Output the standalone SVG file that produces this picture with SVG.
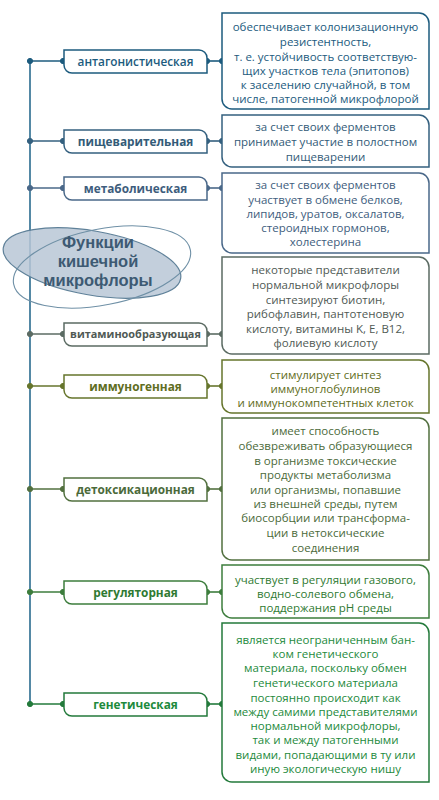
<svg xmlns="http://www.w3.org/2000/svg" width="439" height="800" viewBox="0 0 439 800">
<style>
.lbl{font-family:"Open Sans","Noto Sans","DejaVu Sans",sans-serif;font-size:11.8px;font-weight:700;text-anchor:middle}
.txt{font-family:"Open Sans","Noto Sans","DejaVu Sans",sans-serif;font-size:11.5px;text-anchor:middle}
.box{fill:#fff;stroke-width:1.5}
.ln{stroke-width:1.6;fill:none}
.c1{stroke:#1c5b7e;fill:#1c5b7e}
.c2{stroke:#34607f;fill:#34607f}
.c3{stroke:#4a6889;fill:#4a6889}
.c4{stroke:#5b6b63;fill:#5b6b63}
.c5{stroke:#66752c;fill:#66752c}
.c6{stroke:#52703f;fill:#52703f}
.c7{stroke:#3d7d3d;fill:#3d7d3d}
.c8{stroke:#237a3b;fill:#237a3b}
.t1{fill:#1c5b7e}.t2{fill:#335b78}.t3{fill:#3e5d7d}.t4{fill:#505a55}
.t5{fill:#5f6d22}.t6{fill:#4b6a3a}.t7{fill:#2f7a32}.t8{fill:#1d8a3c}
.title{font-family:"Liberation Sans","Arimo",sans-serif;font-size:16.5px;font-weight:700;fill:#3d5a73;text-anchor:middle}
</style>
<g id="connectors">
<line x1="30" y1="61" x2="30" y2="704" stroke="#2a6b8f" stroke-width="1.6"/>
<g class="c1"><line class="ln" x1="30" y1="61" x2="64" y2="61"/><line class="ln" x1="207" y1="61" x2="222" y2="61"/><circle cx="30" cy="61" r="2.6"/><circle cx="63" cy="61" r="2.6"/><circle cx="207" cy="61" r="2.6"/><circle cx="222" cy="61" r="2.6"/></g>
<g class="c2"><line class="ln" x1="30" y1="141" x2="64" y2="141"/><line class="ln" x1="207" y1="141" x2="222" y2="141"/><circle cx="30" cy="141" r="2.6"/><circle cx="63" cy="141" r="2.6"/><circle cx="207" cy="141" r="2.6"/><circle cx="222" cy="141" r="2.6"/></g>
<g class="c3"><line class="ln" x1="30" y1="188" x2="64" y2="188"/><line class="ln" x1="207" y1="188" x2="222" y2="188"/><circle cx="30" cy="188" r="2.6"/><circle cx="63" cy="188" r="2.6"/><circle cx="207" cy="188" r="2.6"/><circle cx="222" cy="188" r="2.6"/></g>
<g class="c4"><line class="ln" x1="30" y1="334" x2="64" y2="334"/><line class="ln" x1="207" y1="334" x2="222" y2="334"/><circle cx="30" cy="334" r="2.6"/><circle cx="63" cy="334" r="2.6"/><circle cx="207" cy="334" r="2.6"/><circle cx="222" cy="334" r="2.6"/></g>
<g class="c5"><line class="ln" x1="30" y1="386" x2="64" y2="386"/><line class="ln" x1="207" y1="386" x2="222" y2="386"/><circle cx="30" cy="386" r="2.6"/><circle cx="63" cy="386" r="2.6"/><circle cx="207" cy="386" r="2.6"/><circle cx="222" cy="386" r="2.6"/></g>
<g class="c6"><line class="ln" x1="30" y1="489" x2="64" y2="489"/><line class="ln" x1="207" y1="489" x2="222" y2="489"/><circle cx="30" cy="489" r="2.6"/><circle cx="63" cy="489" r="2.6"/><circle cx="207" cy="489" r="2.6"/><circle cx="222" cy="489" r="2.6"/></g>
<g class="c7"><line class="ln" x1="30" y1="592" x2="64" y2="592"/><line class="ln" x1="207" y1="592" x2="222" y2="592"/><circle cx="30" cy="592" r="2.6"/><circle cx="63" cy="592" r="2.6"/><circle cx="207" cy="592" r="2.6"/><circle cx="222" cy="592" r="2.6"/></g>
<g class="c8"><line class="ln" x1="30" y1="704" x2="64" y2="704"/><line class="ln" x1="207" y1="704" x2="222" y2="704"/><circle cx="30" cy="704" r="2.6"/><circle cx="63" cy="704" r="2.6"/><circle cx="207" cy="704" r="2.6"/><circle cx="222" cy="704" r="2.6"/></g>
</g>
<g id="title">
<ellipse cx="92" cy="263" rx="90" ry="32" transform="rotate(10 92 263)" fill="#b9c7d6" fill-opacity="0.85" stroke="#5f8199" stroke-width="1.2"/>
<ellipse cx="102" cy="267" rx="90" ry="38" transform="rotate(-11 102 267)" fill="none" stroke="#6f90a6" stroke-width="1.1"/>
<text class="title" x="98" y="248">Функции</text>
<text class="title" x="98" y="267">кишечной</text>
<text class="title" x="98" y="286">микрофлоры</text>
</g>
<g id="n1">
<path class="box c1" style="fill:#fff" d="M64 50H199A8 8 0 0 1 207 58V73H72A8 8 0 0 1 64 65Z"/>
<text class="lbl t1" style="font-weight:600" x="135.5" y="65.5">антагонистическая</text>
<path class="box c1" style="fill:#fff" d="M222 13H419A10 10 0 0 1 429 23V109H232A10 10 0 0 1 222 99Z"/>
<text class="txt t1"><tspan x="325.5" y="31">обеспечивает колонизационную</tspan><tspan x="325.5" y="46">резистентность,</tspan><tspan x="325.5" y="61">т. е. устойчивость соответствую-</tspan><tspan x="325.5" y="75">щих участков тела (эпитопов)</tspan><tspan x="325.5" y="89">к заселению случайной, в том</tspan><tspan x="325.5" y="103">числе, патогенной микрофлорой</tspan></text>
</g>
<g id="n2">
<path class="box c2" style="fill:#fff" d="M64 130H199A8 8 0 0 1 207 138V153H72A8 8 0 0 1 64 145Z"/>
<text class="lbl t2" x="135.5" y="145.5">пищеварительная</text>
<path class="box c2" style="fill:#fff" d="M222 115H419A10 10 0 0 1 429 125V167H232A10 10 0 0 1 222 157Z"/>
<text class="txt t2"><tspan x="325.5" y="131">за счет своих ферментов</tspan><tspan x="325.5" y="146">принимает участие в полостном</tspan><tspan x="325.5" y="161">пищеварении</tspan></text>
</g>
<g id="n3">
<path class="box c3" style="fill:#fff" d="M64 177H199A8 8 0 0 1 207 185V200H72A8 8 0 0 1 64 192Z"/>
<text class="lbl t3" x="135.5" y="192.5">метаболическая</text>
<path class="box c3" style="fill:#fff" d="M222 173H419A10 10 0 0 1 429 183V253H232A10 10 0 0 1 222 243Z"/>
<text class="txt t3"><tspan x="325.5" y="189">за счет своих ферментов</tspan><tspan x="325.5" y="204">участвует в обмене белков,</tspan><tspan x="325.5" y="218">липидов, уратов, оксалатов,</tspan><tspan x="325.5" y="232">стероидных гормонов,</tspan><tspan x="325.5" y="246">холестерина</tspan></text>
</g>
<g id="n4">
<path class="box c4" style="fill:#fff" d="M64 323H199A8 8 0 0 1 207 331V346H72A8 8 0 0 1 64 338Z"/>
<text class="lbl t4" style="font-size:10.9px" x="135.5" y="338.3">витаминообразующая</text>
<path class="box c4" style="fill:#fff" d="M222 257H419A10 10 0 0 1 429 267V354H232A10 10 0 0 1 222 344Z"/>
<text class="txt t4"><tspan x="325.5" y="274">некоторые представители</tspan><tspan x="325.5" y="289">нормальной микрофлоры</tspan><tspan x="325.5" y="304">синтезируют биотин,</tspan><tspan x="325.5" y="318">рибофлавин, пантотеновую</tspan><tspan x="325.5" y="333">кислоту, витамины K, E, B12,</tspan><tspan x="325.5" y="347">фолиевую кислоту</tspan></text>
</g>
<g id="n5">
<path class="box c5" style="fill:#fff" d="M64 375H199A8 8 0 0 1 207 383V398H72A8 8 0 0 1 64 390Z"/>
<text class="lbl t5" x="135.5" y="390.5">иммуногенная</text>
<path class="box c5" style="fill:#fff" d="M222 360H419A10 10 0 0 1 429 370V413H232A10 10 0 0 1 222 403Z"/>
<text class="txt t5"><tspan x="325.5" y="379">стимулирует синтез</tspan><tspan x="325.5" y="393">иммуноглобулинов</tspan><tspan x="325.5" y="407">и иммунокомпетентных клеток</tspan></text>
</g>
<g id="n6">
<path class="box c6" style="fill:#fff" d="M64 478H199A8 8 0 0 1 207 486V501H72A8 8 0 0 1 64 493Z"/>
<text class="lbl t6" x="135.5" y="493.5">детоксикационная</text>
<path class="box c6" style="fill:#fff" d="M222 418H419A10 10 0 0 1 429 428V560H232A10 10 0 0 1 222 550Z"/>
<text class="txt t6"><tspan x="325.5" y="435">имеет способность</tspan><tspan x="325.5" y="450">обезвреживать образующиеся</tspan><tspan x="325.5" y="465">в организме токсические</tspan><tspan x="325.5" y="479">продукты метаболизма</tspan><tspan x="325.5" y="494">или организмы, попавшие</tspan><tspan x="325.5" y="508">из внешней среды, путем</tspan><tspan x="325.5" y="522">биосорбции или трансформа-</tspan><tspan x="325.5" y="537">ции в нетоксические</tspan><tspan x="325.5" y="552">соединения</tspan></text>
</g>
<g id="n7">
<path class="box c7" style="fill:#fff" d="M64 581H199A8 8 0 0 1 207 589V604H72A8 8 0 0 1 64 596Z"/>
<text class="lbl t7" x="135.5" y="596.5">регуляторная</text>
<path class="box c7" style="fill:#fff" d="M222 565H419A10 10 0 0 1 429 575V618H232A10 10 0 0 1 222 608Z"/>
<text class="txt t7"><tspan x="325.5" y="584">участвует в регуляции газового,</tspan><tspan x="325.5" y="598">водно-солевого обмена,</tspan><tspan x="325.5" y="612">поддержания pH среды</tspan></text>
</g>
<g id="n8">
<path class="box c8" style="fill:#fff" d="M64 693H199A8 8 0 0 1 207 701V716H72A8 8 0 0 1 64 708Z"/>
<text class="lbl t8" x="135.5" y="708.5">генетическая</text>
<path class="box c8" style="fill:#fff" d="M222 623H419A10 10 0 0 1 429 633V782H232A10 10 0 0 1 222 772Z"/>
<text class="txt t8"><tspan x="325.5" y="644">является неограниченным бан-</tspan><tspan x="325.5" y="658">ком генетического</tspan><tspan x="325.5" y="672">материала, поскольку обмен</tspan><tspan x="325.5" y="687">генетического материала</tspan><tspan x="325.5" y="702">постоянно происходит как</tspan><tspan x="325.5" y="716">между самими представителями</tspan><tspan x="325.5" y="730">нормальной микрофлоры,</tspan><tspan x="325.5" y="744">так и между патогенными</tspan><tspan x="325.5" y="759">видами, попадающими в ту или</tspan><tspan x="325.5" y="773">иную экологическую нишу</tspan></text>
</g>
</svg>
